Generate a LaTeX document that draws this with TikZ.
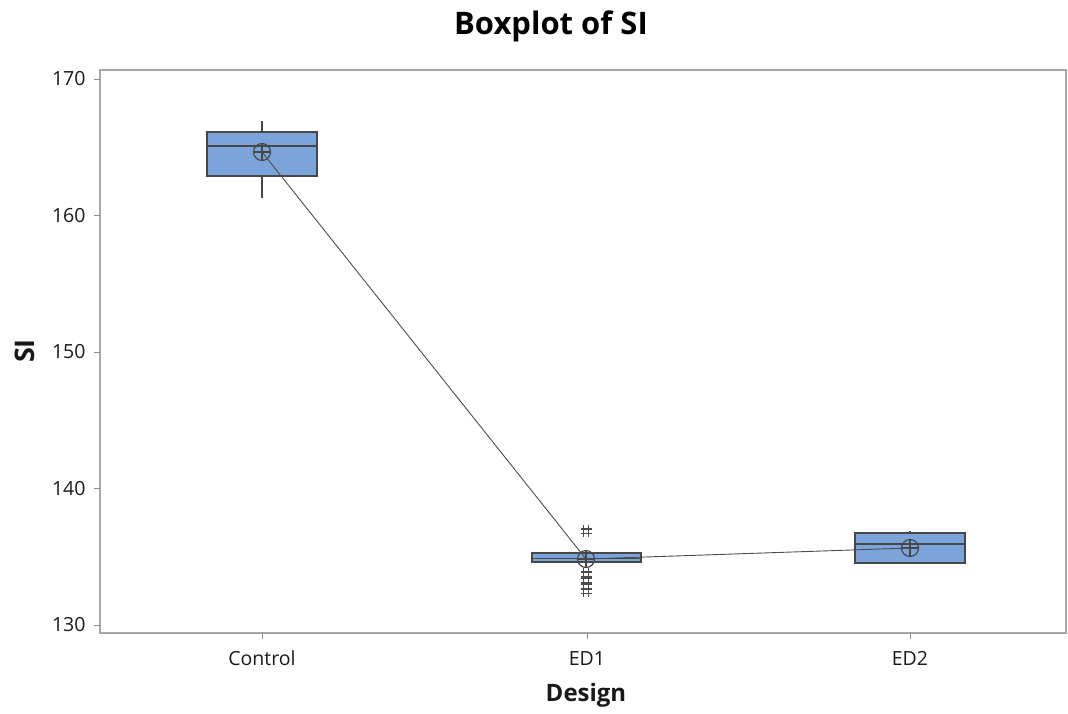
\documentclass[tikz,border=0pt]{standalone}
\usepackage{fontspec}
\setmainfont{Open Sans}
\begin{document}
\begin{tikzpicture}[x=1pt,y=-1pt,
  framec/.style={draw=black!35, line width=1.8pt},
  tickc/.style={draw=black!45, line width=1pt},
  boxc/.style={draw=black!72, fill=boxblue, line width=1.4pt},
  medc/.style={draw=black!72, line width=1.4pt},
  whisk/.style={draw=black!72, line width=1.3pt},
  meanmark/.style={circle, draw=black!72, line width=1.2pt, minimum size=17pt, inner sep=0pt,
    path picture={\draw[black!72, line width=1.2pt]
      (path picture bounding box.north) -- (path picture bounding box.south)
      (path picture bounding box.west) -- (path picture bounding box.east);}},
  meanline/.style={draw=black!70, line width=0.9pt},
  ticklab/.style={font=\fontsize{19.5}{22}\selectfont, text=black!90},
  axlab/.style={font=\bfseries\fontsize{24}{28}\selectfont, text=black!90},
  outl/.pic={\draw[black!70, line width=1.1pt] (-2.5,-6) -- (-2.5,6) (2.5,-6) -- (2.5,6)
      (-5.5,-2) -- (5.5,-2) (-5.5,2.5) -- (5.5,2.5);}
]
\definecolor{boxblue}{HTML}{7BA4DB}
\useasboundingbox (0,0) rectangle (1068,713);

% title
\node[font=\bfseries\fontsize{31}{34}\selectfont] (title) at (551,26) {Boxplot of SI};

% plot frame
\draw[framec] (100,70) rectangle (1066,633);

% y axis ticks and labels
\foreach \v/\py in {170/79,160/215.5,150/352,140/488.5,130/625}{
  \draw[tickc] (94,\py) -- (100,\py);
  \node[ticklab, anchor=east] (y\v) at (89,\py) {\v};
}
% x axis ticks and labels
\foreach \px/\lab in {262/Control,587/ED1,910/ED2}{
  \draw[tickc] (\px,633) -- (\px,639);
  \node[ticklab, anchor=base] (x\lab) at (\px,665) {\lab};
}
\node[axlab, anchor=base] (xl) at (586,701) {Design};
\node[axlab, font=\bfseries\fontsize{27}{30}\selectfont, rotate=90] (yl) at (25,351) {SI};

% Control
\draw[whisk] (262,121) -- (262,132) (262,176) -- (262,198);
\draw[boxc] (207,132) rectangle (317,176);
\draw[medc] (207,146) -- (317,146);

% ED1
\draw[boxc] (532,553) rectangle (641,562);
\draw[medc] (532,558.5) -- (641,558.5);
\foreach \py in {531,574,580,586,591}{
  \pic at (586,\py) {outl};
}

% ED2
\draw[whisk] (910,531) -- (910,533);
\draw[boxc] (855,533) rectangle (965,563);
\draw[medc] (855,544) -- (965,544);

% means and connecting line
\node[meanmark] (m1) at (262,152) {};
\node[meanmark] (m2) at (586,559) {};
\node[meanmark] (m3) at (910,548) {};
\draw[meanline] (m1.center) -- (m2.center) -- (m3.center);
\end{tikzpicture}
\end{document}
